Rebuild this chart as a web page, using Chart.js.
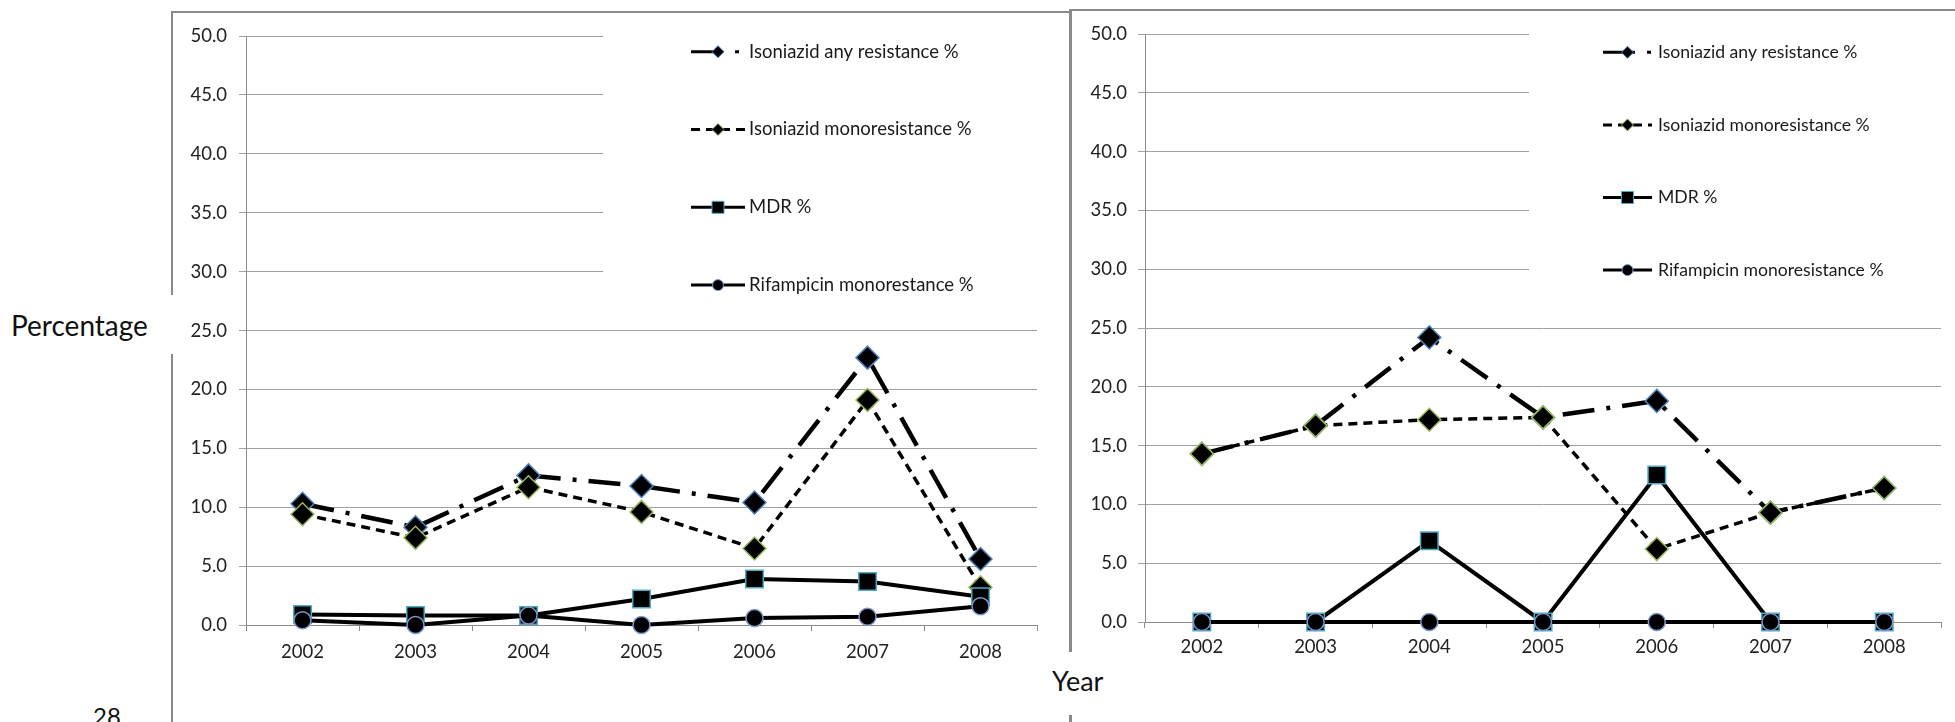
<!DOCTYPE html>
<html>
<head>
<meta charset="utf-8">
<title>Drug resistance trends 2002–2008</title>
<script src="https://cdn.jsdelivr.net/npm/chart.js@4.4.1/dist/chart.umd.min.js"></script>
<style>
  html, body { margin: 0; padding: 0; background: #fff; }
  #page { position: relative; width: 1955px; height: 722px; overflow: hidden; background: #fff;
          font-family: Lato, "Open Sans", sans-serif; }
  .rule { position: absolute; background: #8a8a8a; }
  .lbl { position: absolute; color: #111; white-space: nowrap; line-height: 1; }
  .panel { position: absolute; }
</style>
</head>
<body>
<div id="page">
  <!-- page frame lines around the two panels -->
  <div class="rule" style="left:171px;top:11px;width:2px;height:284px"></div>
  <div class="rule" style="left:171px;top:354px;width:2px;height:368px"></div>
  <div class="rule" style="left:171px;top:11px;width:900px;height:2px"></div>
  <div class="rule" style="left:1069px;top:9px;width:3px;height:643px"></div>
  <div class="rule" style="left:1069px;top:715px;width:3px;height:7px"></div>
  <div class="rule" style="left:1070px;top:9px;width:885px;height:2px"></div>

  <div class="lbl" style="left:11px;top:311px;font-size:28px">Percentage</div>
  <div class="lbl" style="left:1052px;top:667px;font-size:27px">Year</div>
  <div class="lbl" style="left:93px;top:704px;font-size:24px">28</div>

  <div class="panel" style="left:173px;top:13px;width:895px;height:709px"><canvas id="leftPanel"></canvas></div>
  <div class="panel" style="left:1073px;top:11px;width:882px;height:711px"><canvas id="rightPanel"></canvas></div>
</div>

<script>
// ---- data ----
const years = ['2002', '2003', '2004', '2005', '2006', '2007', '2008'];
const yMin = 0;
const yMax = 50;
const yStep = 5;

const leftAnyResistance  = [10.3, 8.3, 12.7, 11.8, 10.4, 22.7, 5.6];
const leftMonoResistance = [9.4, 7.4, 11.7, 9.6, 6.5, 19.1, 3.2];
const leftMdr            = [0.9, 0.8, 0.8, 2.2, 3.9, 3.7, 2.4];
const leftRifMono        = [0.4, 0.0, 0.8, 0.0, 0.6, 0.7, 1.6];

const rightAnyResistance  = [14.3, 16.7, 24.2, 17.4, 18.8, 9.3, 11.4];
const rightMonoResistance = [14.3, 16.7, 17.2, 17.4, 6.2, 9.3, 11.4];
const rightMdr            = [0.0, 0.0, 6.9, 0.0, 12.5, 0.0, 0.0];
const rightRifMono        = [0.0, 0.0, 0.0, 0.0, 0.0, 0.0, 0.0];

const leftLabels  = ['Isoniazid any resistance %', 'Isoniazid monoresistance %', 'MDR %', 'Rifampicin monorestance %'];
const rightLabels = ['Isoniazid any resistance %', 'Isoniazid monoresistance %', 'MDR %', 'Rifampicin monoresistance %'];

// ---- series styling (line pattern + marker) ----
const seriesStyle = [
  { pointStyle: 'rectRot', radius: 11.5, edge: '#4f81bd', dash: [32, 12, 4, 12], width: 4.5, legendRadius: 6 },
  { pointStyle: 'rectRot', radius: 11.5, edge: '#9bbb59', dash: [9, 6],          width: 3.5, legendRadius: 6 },
  { pointStyle: 'rect',    radius: 12.4, edge: '#4bacc6', dash: [],              width: 4,   legendRadius: 8.5 },
  { pointStyle: 'circle',  radius: 8.5,  edge: '#8096d0', dash: [],              width: 4,   legendRadius: 5.5 }
];

const FONT = 'Lato, "Open Sans", sans-serif';

function buildDatasets(seriesValues, labels) {
  return seriesValues.map((values, i) => {
    const s = seriesStyle[i];
    return {
      label: labels[i],
      data: values,
      borderColor: '#000',
      borderWidth: s.width,
      borderDash: s.dash,
      borderJoinStyle: 'round',
      tension: 0,
      fill: false,
      pointStyle: s.pointStyle,
      pointRadius: s.radius,
      pointHoverRadius: s.radius,
      pointBackgroundColor: '#000',
      pointBorderColor: s.edge,
      pointBorderWidth: 1.5,
      clip: false,
      order: seriesValues.length - i,   // later series are painted on top
      legendRadius: s.legendRadius
    };
  });
}

// Legend drawn in the upper-right of the plot, on a white panel over the grid
const insetLegend = {
  id: 'insetLegend',
  beforeDatasetsDraw(chart, args, o) {
    const ctx = chart.ctx;
    ctx.save();
    ctx.fillStyle = '#fff';
    ctx.fillRect(o.boxLeft, 0, chart.width - o.boxLeft, o.boxBottom);
    ctx.restore();
  },
  afterDraw(chart, args, o) {
    const ctx = chart.ctx;
    chart.data.datasets.forEach((ds, i) => {
      const y = o.firstRow + i * o.rowGap;
      ctx.save();
      ctx.strokeStyle = ds.borderColor;
      ctx.lineWidth = 3;
      ctx.setLineDash(ds.borderDash || []);
      ctx.beginPath();
      ctx.moveTo(o.x0, y);
      ctx.lineTo(o.x1, y);
      ctx.stroke();
      ctx.setLineDash([]);
      ctx.fillStyle = ds.pointBackgroundColor;
      ctx.strokeStyle = ds.pointBorderColor;
      ctx.lineWidth = 1;
      Chart.helpers.drawPoint(ctx, { pointStyle: ds.pointStyle, radius: ds.legendRadius, borderWidth: 1, rotation: 0 },
                              (o.x0 + o.x1) / 2, y);
      ctx.fillStyle = '#1a1a1a';
      ctx.font = o.fontSize + 'px ' + FONT;
      ctx.textAlign = 'left';
      ctx.textBaseline = 'middle';
      ctx.fillText(ds.label, o.textX, y);
      ctx.restore();
    });
  }
};

function makePanel(canvasId, seriesValues, labels, geo) {
  return new Chart(document.getElementById(canvasId), {
    type: 'line',
    data: { labels: years, datasets: buildDatasets(seriesValues, labels) },
    plugins: [insetLegend],
    options: {
      responsive: true,
      maintainAspectRatio: false,
      devicePixelRatio: 1,
      animation: false,
      events: [],
      layout: { padding: geo.padding },
      plugins: {
        legend: { display: false },
        tooltip: { enabled: false },
        insetLegend: geo.legend
      },
      scales: {
        x: {
          type: 'category',
          offset: true,
          grid: { display: true, drawOnChartArea: false, offset: true, tickLength: 6, color: '#8a8a8a', lineWidth: 1 },
          border: { display: true, color: '#8a8a8a', width: 1 },
          ticks: { color: '#222', font: { family: FONT, size: geo.tickFont }, padding: geo.xPad, maxRotation: 0, autoSkip: false },
          afterFit: (scale) => { scale.height = 40; }
        },
        y: {
          min: yMin,
          max: yMax,
          grid: { color: '#a0a0a0', lineWidth: 1, tickLength: 7, drawTicks: true },
          border: { display: true, color: '#8a8a8a', width: 1 },
          ticks: {
            stepSize: yStep,
            color: '#222',
            font: { family: FONT, size: geo.tickFont },
            padding: geo.yPad,
            callback: (v) => Number(v).toFixed(1)
          },
          afterFit: (scale) => { scale.width = geo.yAxisWidth; }
        }
      }
    }
  });
}

makePanel('leftPanel',
  [leftAnyResistance, leftMonoResistance, leftMdr, leftRifMono], leftLabels,
  {
    padding: { left: 0, top: 21, right: 31, bottom: 57 },
    yAxisWidth: 73, tickFont: 18.5, xPad: 10, yPad: 12,
    legend: { boxLeft: 430, boxBottom: 292, x0: 518, x1: 572, textX: 576, firstRow: 38.7, rowGap: 77.8, fontSize: 18.5 }
  });

makePanel('rightPanel',
  [rightAnyResistance, rightMonoResistance, rightMdr, rightRifMono], rightLabels,
  {
    padding: { left: 0, top: 23, right: 11, bottom: 60 },
    yAxisWidth: 72, tickFont: 18.5, xPad: 8, yPad: 11,
    legend: { boxLeft: 456, boxBottom: 284, x0: 530, x1: 579, textX: 585, firstRow: 41.3, rowGap: 72.6, fontSize: 17.6 }
  });
</script>
</body>
</html>
